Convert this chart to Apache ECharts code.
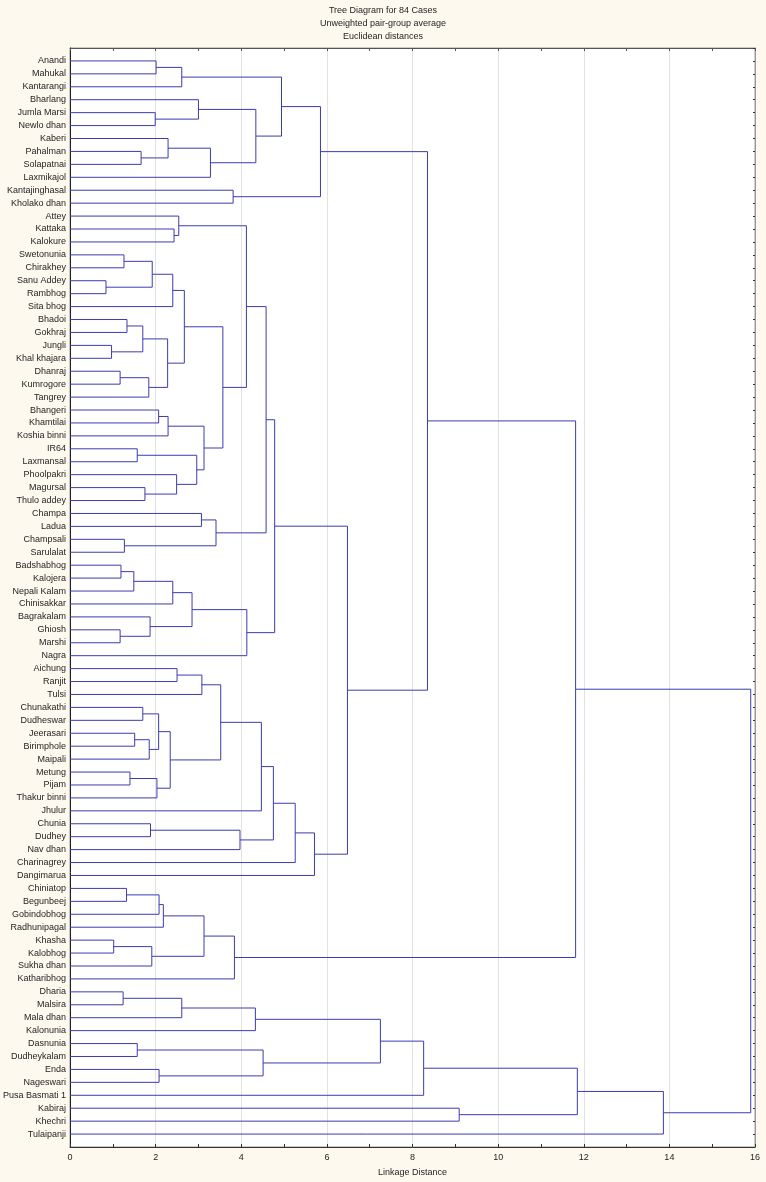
<!DOCTYPE html>
<html>
<head>
<meta charset="utf-8">
<script src="https://cdn.jsdelivr.net/npm/echarts@6/dist/echarts.min.js"></script>
<style>
html,body{margin:0;padding:0;background:#fdf9ef;}
#c{width:766px;height:1182px;}
</style>
</head>
<body>
<div id="c"></div>
<script>
const titleLines = ['Tree Diagram for 84 Cases', 'Unweighted pair-group average', 'Euclidean distances'];
const xAxisName = 'Linkage Distance';
const leaves = ['Anandi','Mahukal','Kantarangi','Bharlang','Jumla Marsi','Newlo dhan','Kaberi','Pahalman','Solapatnai','Laxmikajol',
 'Kantajinghasal','Kholako dhan','Attey','Kattaka','Kalokure','Swetonunia','Chirakhey','Sanu Addey','Rambhog','Sita bhog',
 'Bhadoi','Gokhraj','Jungli','Khal khajara','Dhanraj','Kumrogore','Tangrey','Bhangeri','Khamtilai','Koshia binni',
 'IR64','Laxmansal','Phoolpakri','Magursal','Thulo addey','Champa','Ladua','Champsali','Sarulalat','Badshabhog',
 'Kalojera','Nepali Kalam','Chinisakkar','Bagrakalam','Ghiosh','Marshi','Nagra','Aichung','Ranjit','Tulsi',
 'Chunakathi','Dudheswar','Jeerasari','Birimphole','Maipali','Metung','Pijam','Thakur binni','Jhulur','Chunia',
 'Dudhey','Nav dhan','Charinagrey','Dangimarua','Chiniatop','Begunbeej','Gobindobhog','Radhunipagal','Khasha','Kalobhog',
 'Sukha dhan','Katharibhog','Dharia','Malsira','Mala dhan','Kalonunia','Dasnunia','Dudheykalam','Enda','Nageswari',
 'Pusa Basmati 1','Kabiraj','Khechri','Tulaipanji'];
// [cluster id, first child, second child, linkage distance]
const merges = [
 ['c1','Anandi','Mahukal',2.01],
 ['c2','c1','Kantarangi',2.61],
 ['c3','Jumla Marsi','Newlo dhan',1.99],
 ['c4','Bharlang','c3',3.00],
 ['c5','Pahalman','Solapatnai',1.66],
 ['c6','Kaberi','c5',2.29],
 ['c7','c6','Laxmikajol',3.28],
 ['c8','c4','c7',4.34],
 ['c9','c2','c8',4.94],
 ['c10','Kantajinghasal','Kholako dhan',3.81],
 ['c11','c9','c10',5.85],
 ['c12','Kattaka','Kalokure',2.43],
 ['c13','Attey','c12',2.54],
 ['c14','Swetonunia','Chirakhey',1.26],
 ['c15','Sanu Addey','Rambhog',0.84],
 ['c16','c14','c15',1.92],
 ['c17','c16','Sita bhog',2.40],
 ['c18','Bhadoi','Gokhraj',1.33],
 ['c19','Jungli','Khal khajara',0.97],
 ['c20','c18','c19',1.70],
 ['c21','Dhanraj','Kumrogore',1.17],
 ['c22','c21','Tangrey',1.84],
 ['c23','c20','c22',2.28],
 ['c24','c17','c23',2.67],
 ['c25','Bhangeri','Khamtilai',2.07],
 ['c26','c25','Koshia binni',2.29],
 ['c27','IR64','Laxmansal',1.57],
 ['c28','Magursal','Thulo addey',1.75],
 ['c29','Phoolpakri','c28',2.49],
 ['c30','c27','c29',2.96],
 ['c31','c26','c30',3.13],
 ['c32','c24','c31',3.57],
 ['c33','c13','c32',4.12],
 ['c34','Champa','Ladua',3.07],
 ['c35','Champsali','Sarulalat',1.27],
 ['c36','c34','c35',3.41],
 ['c37','c33','c36',4.58],
 ['c38','Badshabhog','Kalojera',1.19],
 ['c39','c38','Nepali Kalam',1.49],
 ['c40','c39','Chinisakkar',2.40],
 ['c41','Ghiosh','Marshi',1.17],
 ['c42','Bagrakalam','c41',1.87],
 ['c43','c40','c42',2.85],
 ['c44','c43','Nagra',4.13],
 ['c45','c37','c44',4.78],
 ['c46','Aichung','Ranjit',2.50],
 ['c47','c46','Tulsi',3.08],
 ['c48','Chunakathi','Dudheswar',1.70],
 ['c49','Jeerasari','Birimphole',1.51],
 ['c50','c49','Maipali',1.85],
 ['c51','c48','c50',2.07],
 ['c52','Metung','Pijam',1.40],
 ['c53','c52','Thakur binni',2.03],
 ['c54','c51','c53',2.34],
 ['c55','c47','c54',3.52],
 ['c56','c55','Jhulur',4.47],
 ['c57','Chunia','Dudhey',1.88],
 ['c58','c57','Nav dhan',3.97],
 ['c59','c56','c58',4.75],
 ['c60','c59','Charinagrey',5.26],
 ['c61','c60','Dangimarua',5.71],
 ['c62','c45','c61',6.48],
 ['c63','c11','c62',8.35],
 ['c64','Chiniatop','Begunbeej',1.32],
 ['c65','c64','Gobindobhog',2.08],
 ['c66','c65','Radhunipagal',2.18],
 ['c67','Khasha','Kalobhog',1.02],
 ['c68','c67','Sukha dhan',1.91],
 ['c69','c66','c68',3.13],
 ['c70','c69','Katharibhog',3.84],
 ['c71','c63','c70',11.81],
 ['c72','Dharia','Malsira',1.24],
 ['c73','c72','Mala dhan',2.61],
 ['c74','c73','Kalonunia',4.33],
 ['c75','Dasnunia','Dudheykalam',1.57],
 ['c76','Enda','Nageswari',2.08],
 ['c77','c75','c76',4.51],
 ['c78','c74','c77',7.25],
 ['c79','c78','Pusa Basmati 1',8.26],
 ['c80','Kabiraj','Khechri',9.09],
 ['c81','c79','c80',11.85],
 ['c82','c81','Tulaipanji',13.86],
 ['c83','c71','c82',15.90]
];
const xTicks = {min: 0, max: 16, step: 2};

// build node positions (leaf index for y, linkage distance for x)
const node = {};
leaves.forEach((n, i) => { node[n] = {x: 0, y: i}; });
const segs = [];
merges.forEach(([id, a, b, h]) => {
  const A = node[a], B = node[b];
  segs.push({coords: [[A.x, A.y], [h, A.y], [h, B.y], [B.x, B.y]]});
  node[id] = {x: h, y: (A.y + B.y) / 2};
});

const lineColor = '#3c3cae';
const txt = '#1e1e1e';
const font = 'Liberation Sans, Arial, sans-serif';
const chart = echarts.init(document.getElementById('c'), null, {renderer: 'canvas'});
chart.setOption({
  animation: false,
  backgroundColor: '#fdf9ef',
  title: {
    text: titleLines.join('\n'),
    left: 'center', top: 4, padding: 0,
    textStyle: {fontSize: 9, fontWeight: 'normal', color: txt, fontFamily: font, lineHeight: 13}
  },
  grid: {left: 70, right: 11, top: 48, bottom: 34, show: true, backgroundColor: '#ffffff', borderColor: '#9a9a9a', borderWidth: 1},
  xAxis: [{
    type: 'value', position: 'bottom', min: xTicks.min, max: xTicks.max, interval: xTicks.step,
    name: xAxisName, nameLocation: 'middle', nameGap: 21,
    nameTextStyle: {fontSize: 9, color: txt, fontFamily: font},
    axisLine: {show: true, onZero: false, lineStyle: {color: '#333', width: 1}},
    axisTick: {show: true, inside: true, length: 3, lineStyle: {color: '#333'}},
    minorTick: {show: true, splitNumber: 2, length: 3, lineStyle: {color: '#333'}},
    axisLabel: {fontSize: 9, color: txt, fontFamily: font, margin: 6},
    splitLine: {show: true, lineStyle: {color: '#e2e2e6', width: 1}}
  }, {
    type: 'value', position: 'top', min: xTicks.min, max: xTicks.max, interval: xTicks.step,
    axisLine: {show: true, onZero: false, lineStyle: {color: '#555', width: 1}},
    axisTick: {show: true, inside: true, length: 3, lineStyle: {color: '#555'}},
    minorTick: {show: true, splitNumber: 2, length: 3, lineStyle: {color: '#555'}},
    axisLabel: {show: false},
    splitLine: {show: false}
  }],
  yAxis: [{
    type: 'value', inverse: true, min: -1, max: leaves.length, interval: 1, position: 'left',
    axisLine: {show: true, onZero: false, lineStyle: {color: '#222', width: 1}},
    axisTick: {show: false},
    axisLabel: {
      fontSize: 9, color: txt, fontFamily: font, margin: 4,
      formatter: v => (Number.isInteger(v) && v >= 0 && v < leaves.length) ? leaves[v] : ''
    },
    splitLine: {show: false}
  }, {
    type: 'value', inverse: true, min: -1, max: leaves.length, interval: 1, position: 'right',
    axisLine: {show: true, onZero: false, lineStyle: {color: '#9a9a9a', width: 1}},
    axisTick: {show: true, inside: true, length: 2, lineStyle: {color: '#333'}},
    axisLabel: {show: false},
    splitLine: {show: false}
  }],
  series: [{
    type: 'lines', coordinateSystem: 'cartesian2d', polyline: true,
    xAxisIndex: 0, yAxisIndex: 0,
    lineStyle: {color: lineColor, width: 1, opacity: 1},
    silent: true,
    data: segs
  }]
});
</script>
</body>
</html>
